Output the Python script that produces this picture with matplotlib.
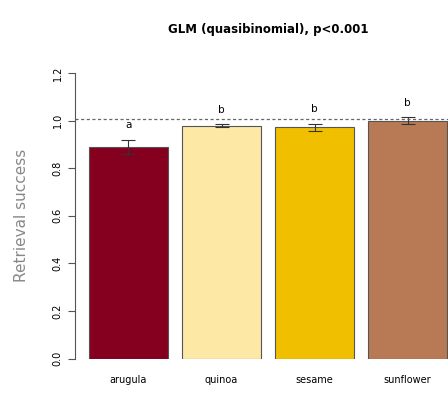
import matplotlib.pyplot as plt
import numpy as np

# valores
seeds = ["arugula", "quinoa", "sesame", "sunflower"]
success = [0.89, 0.979, 0.972, 1.0]
errors = [0.03, 0.007, 0.015, 0.016]
letters = ["a", "b", "b", "b"]
colors = ["#85001f", "#fde8a6", "#f0c000", "#b87a55"]
yticks = [0.0, 0.2, 0.4, 0.6, 0.8, 1.0, 1.2]

fig = plt.figure(figsize=(4.48, 4.01), dpi=100)
ax = fig.add_axes([75 / 448, 42.5 / 401, 373 / 448, 285.5 / 401])

# ejes estilo R (antes de los ticks, porque set_position los reinicia)
for s in ["top", "right", "bottom"]:
    ax.spines[s].set_visible(False)
ax.spines["left"].set_position(("outward", 0))
ax.spines["left"].set_bounds(0, 1.2)
ax.spines["left"].set_color("#555555")
ax.spines["left"].set_linewidth(0.8)

x = np.arange(len(seeds))
ax.bar(x, success, width=0.85, color=colors, edgecolor="#555555", linewidth=0.8)
ax.errorbar(x, success, yerr=errors, fmt="none", ecolor="#333333",
            elinewidth=0.8, capsize=5, capthick=0.8, clip_on=False)

for xi, v, e, lab in zip(x, success, errors, letters):
    ax.text(xi, v + e + 0.06, lab, ha="center", va="center", fontsize=7.5, clip_on=False)

ax.axhline(1.005, color="#666666", linestyle=(0, (2.5, 2)), linewidth=0.9)

ax.set_xlim(-0.575, 3.435)
ax.set_ylim(0, 1.2)
ax.set_yticks(yticks)
ax.set_yticklabels([f"{t:.1f}" for t in yticks])
ax.tick_params(axis="y", length=5, width=0.8, color="#555555", pad=4,
               labelsize=7, labelrotation=90)
for lab in ax.get_yticklabels():
    lab.set_va("center")
ax.set_xticks(x)
ax.set_xticklabels(seeds, fontsize=7)
ax.tick_params(axis="x", length=0, pad=12)

ax.set_ylabel("Retrieval success", fontsize=11, color="#888888", labelpad=17)
fig.text(268 / 448, 1 - 30 / 401, "GLM (quasibinomial), p<0.001",
         ha="center", va="center", fontsize=8.5, fontweight="bold")

plt.savefig("out.png", dpi=100)
